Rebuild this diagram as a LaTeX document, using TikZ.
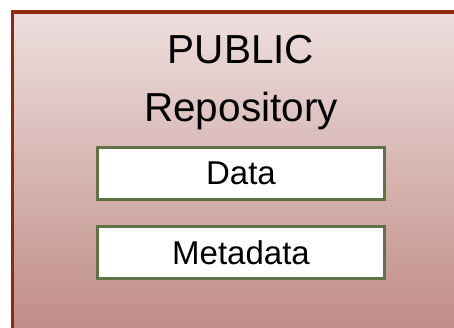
\documentclass[tikz,border=0pt]{standalone}
\usepackage{fontspec}
\setmainfont{Liberation Sans}
\definecolor{repoedge}{RGB}{142,42,18}
\definecolor{repotop}{RGB}{237,223,222}
\definecolor{repobottom}{RGB}{190,136,130}
\definecolor{boxedge}{RGB}{95,115,70}
\begin{document}
\begin{tikzpicture}[x=1pt,y=-1pt,
    titletext/.style={anchor=base,font=\fontsize{40.5}{48}\selectfont},
    itembox/.style={draw=boxedge,line width=3pt,fill=white,minimum width=287pt,minimum height=52pt,inner sep=0pt,font=\fontsize{33}{40}\selectfont}]
    \useasboundingbox (0,0) rectangle (454,328);
    \clip (0,0) rectangle (454,328);

    \draw [line width=3.5pt,draw=repoedge,top color=repotop,bottom color=repobottom] (12.5,12) rectangle (470,345);

    \node [titletext] (public) at (241,64) {PUBLIC};
    \node [titletext] (repo) at (241,122) {Repository};

    \node [itembox] (data) at (241,173.5) {Data};
    \node [itembox] (meta) at (241,252.5) {Metadata};

\end{tikzpicture}
\end{document}
